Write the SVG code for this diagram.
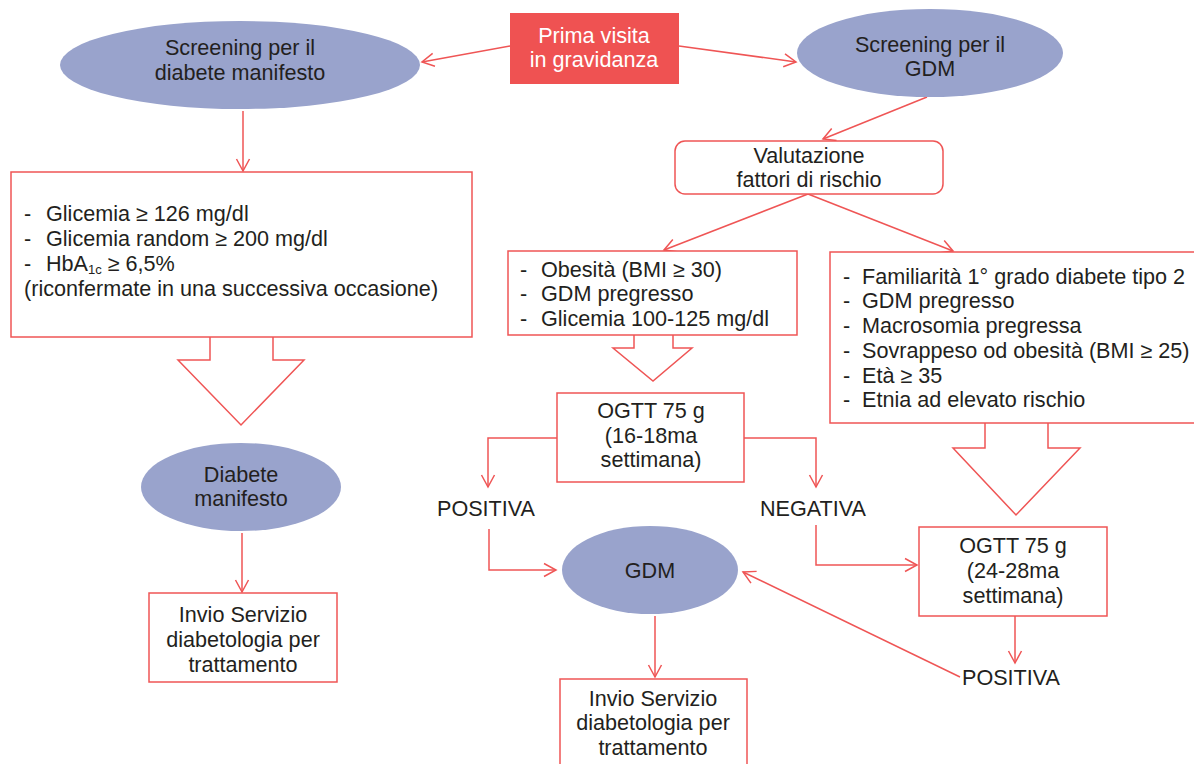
<svg xmlns="http://www.w3.org/2000/svg" width="1194" height="764" viewBox="0 0 1194 764">
<style>
text{font-family:"Liberation Sans",Arial,sans-serif;font-size:21.6px;fill:#231f20}
.c{text-anchor:middle}
.w{fill:#ffffff}
.ell{fill:#99a3cc}
.box{fill:#ffffff;stroke:#ef5555;stroke-width:1.5}
.ln{fill:none;stroke:#ef5555;stroke-width:1.5}
.arr{fill:none;stroke:#ef5555;stroke-width:1.5;marker-end:url(#ah)}
</style>
<defs>
<marker id="ah" viewBox="-13 -8 15 16" refX="0" refY="0" markerWidth="15" markerHeight="16" markerUnits="userSpaceOnUse" orient="auto">
<path d="M-12,-6.5 L0,0 L-12,6.5" fill="none" stroke="#ef5555" stroke-width="1.5"/>
</marker>
</defs>
<rect width="1194" height="764" fill="#ffffff"/>

<g id="connectors">
<path class="arr" d="M510,46 L422,62"/>
<path class="arr" d="M679,46 L796,62"/>
<path class="arr" d="M243,111 L243,171"/>
<path class="arr" d="M927,97 L823,139"/>
<path class="arr" d="M808,194 L664,250"/>
<path class="arr" d="M808,194 L953,251"/>
<path class="arr" d="M557,438 L488,438 L488,487"/>
<path class="arr" d="M744,438 L816,438 L816,487"/>
<path class="arr" d="M489,529 L489,570 L556,570"/>
<path class="arr" d="M816,525 L816,565 L917,565"/>
<path class="arr" d="M242,533 L242,592"/>
<path class="arr" d="M655,616 L655,677"/>
<path class="arr" d="M1015,616 L1015,663"/>
<path class="arr" d="M960,677 L743,572"/>
<path class="box" d="M210,337 L210,360 L178,360 L241,425 L304,360 L273,360 L273,337"/>
<path class="box" d="M634,335 L634,348 L613,348 L653,381 L692,348 L673,348 L673,335"/>
<path class="box" d="M985,423 L985,448 L953,448 L1016,515 L1080,448 L1048,448 L1048,423"/>
</g>

<g id="prima">
<rect x="510" y="13" width="169" height="71" fill="#ef5252"/>
<text class="c w" x="594" y="43">Prima visita</text>
<text class="c w" x="594" y="67">in gravidanza</text>
</g>

<g id="screening-diabete">
<ellipse class="ell" cx="240" cy="65" rx="180" ry="44"/>
<text class="c" x="240" y="55">Screening per il</text>
<text class="c" x="240" y="80">diabete manifesto</text>
</g>

<g id="screening-gdm">
<ellipse class="ell" cx="930" cy="53" rx="133" ry="44"/>
<text class="c" x="930" y="52">Screening per il</text>
<text class="c" x="930" y="76">GDM</text>
</g>

<g id="criteri-diabete">
<rect class="box" x="11" y="172" width="461" height="165"/>
<text x="24" y="221">-</text><text x="46" y="221">Glicemia ≥ 126 mg/dl</text>
<text x="24" y="246">-</text><text x="46" y="246">Glicemia random ≥ 200 mg/dl</text>
<text x="24" y="271">-</text><text x="46" y="271">HbA<tspan font-size="13" dy="3">1c</tspan><tspan dy="-3"> ≥ 6,5%</tspan></text>
<text x="24" y="296">(riconfermate in una successiva occasione)</text>
</g>

<g id="diabete-manifesto">
<ellipse class="ell" cx="241" cy="487" rx="100" ry="44"/>
<text class="c" x="241" y="482">Diabete</text>
<text class="c" x="241" y="506">manifesto</text>
</g>

<g id="invio-1">
<rect class="box" x="149" y="593" width="188" height="89"/>
<text class="c" x="243" y="622">Invio Servizio</text>
<text class="c" x="243" y="647">diabetologia per</text>
<text class="c" x="243" y="672">trattamento</text>
</g>

<g id="valutazione">
<rect class="box" x="675" y="141" width="268" height="53" rx="10" ry="10"/>
<text class="c" x="809" y="163">Valutazione</text>
<text class="c" x="809" y="187">fattori di rischio</text>
</g>

<g id="rischio-alto">
<rect class="box" x="508" y="251" width="289" height="84"/>
<text x="520" y="277">-</text><text x="541" y="277">Obesità (BMI ≥ 30)</text>
<text x="520" y="301">-</text><text x="541" y="301">GDM pregresso</text>
<text x="520" y="326">-</text><text x="541" y="326">Glicemia 100-125 mg/dl</text>
</g>

<g id="rischio-medio">
<rect class="box" x="830" y="252" width="370" height="171"/>
<text x="843" y="284">-</text><text x="862" y="284">Familiarità 1° grado diabete tipo 2</text>
<text x="843" y="308">-</text><text x="862" y="308">GDM pregresso</text>
<text x="843" y="333">-</text><text x="862" y="333">Macrosomia pregressa</text>
<text x="843" y="358">-</text><text x="862" y="358">Sovrappeso od obesità (BMI ≥ 25)</text>
<text x="843" y="383">-</text><text x="862" y="383">Età ≥ 35</text>
<text x="843" y="407">-</text><text x="862" y="407">Etnia ad elevato rischio</text>
</g>

<g id="ogtt-16">
<rect class="box" x="557" y="393" width="187" height="89"/>
<text class="c" x="651" y="418">OGTT 75 g</text>
<text class="c" x="651" y="443">(16-18ma</text>
<text class="c" x="651" y="467">settimana)</text>
</g>

<g id="positiva-1"><text class="c" x="486" y="516">POSITIVA</text></g>
<g id="negativa"><text class="c" x="813" y="516">NEGATIVA</text></g>

<g id="gdm">
<ellipse class="ell" cx="650" cy="570" rx="88" ry="44"/>
<text class="c" x="650" y="578">GDM</text>
</g>

<g id="invio-2">
<rect class="box" x="560" y="679" width="187" height="90"/>
<text class="c" x="653" y="706">Invio Servizio</text>
<text class="c" x="653" y="730">diabetologia per</text>
<text class="c" x="653" y="755">trattamento</text>
</g>

<g id="ogtt-24">
<rect class="box" x="919" y="527" width="188" height="89"/>
<text class="c" x="1013" y="553">OGTT 75 g</text>
<text class="c" x="1013" y="578">(24-28ma</text>
<text class="c" x="1013" y="603">settimana)</text>
</g>

<g id="positiva-2"><text class="c" x="1011" y="685">POSITIVA</text></g>
</svg>
